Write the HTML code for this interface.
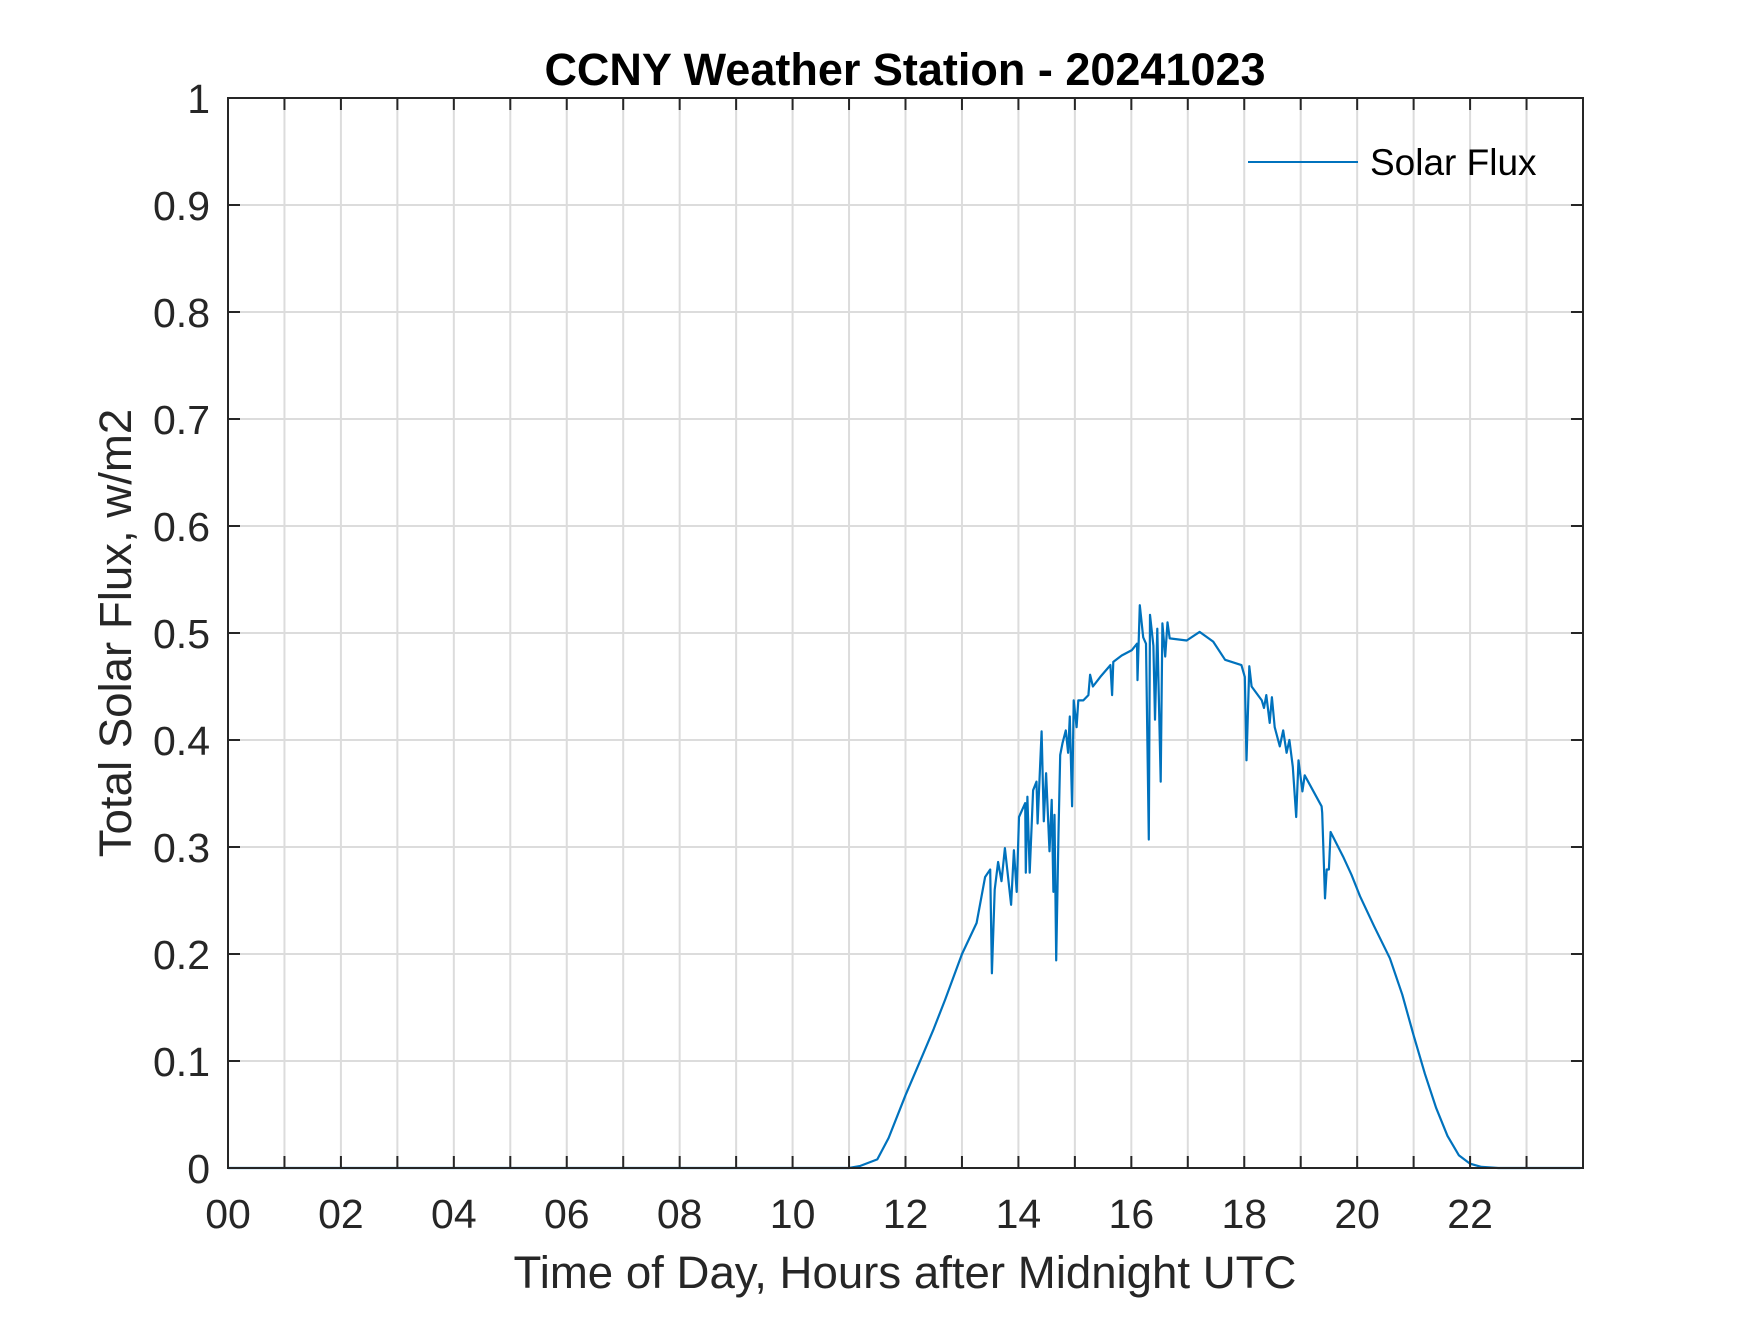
<!DOCTYPE html>
<html><head><meta charset="utf-8"><style>
html,body{margin:0;padding:0;background:#fff;}
svg text{font-family:"Liberation Sans",Arial,sans-serif;}
</style></head><body>
<svg id="chart" width="1750" height="1313" viewBox="0 0 1750 1313" xmlns="http://www.w3.org/2000/svg">
<rect width="1750" height="1313" fill="#fff"/>
<g id="grid"></g>
<g id="series"></g>
<rect x="228" y="98" width="1355" height="1070" fill="none" stroke="#262626" stroke-width="2"/>
<g id="ticks"></g>
<text x="905" y="85" text-anchor="middle" font-size="45" font-weight="bold" fill="#000">CCNY Weather Station - 20241023</text>
<text x="905" y="1288" text-anchor="middle" font-size="45.6" fill="#262626">Time of Day, Hours after Midnight UTC</text>
<text transform="translate(131,633) rotate(-90)" text-anchor="middle" font-size="45.6" fill="#262626">Total Solar Flux, w/m2</text>
<g>
<line x1="1248" y1="162" x2="1358" y2="162" stroke="#0072BD" stroke-width="2"/>
<text x="1370" y="175" font-size="37" fill="#000">Solar Flux</text>
</g>
</svg>
<script>
const hours = [0,11.0,11.2,11.5,11.7,12.0,12.3,12.5,12.7,13.0,13.26,13.41,13.5,13.53,13.58,13.64,13.7,13.76,13.87,13.92,13.97,14.01,14.12,14.13,14.16,14.2,14.26,14.32,14.34,14.41,14.45,14.49,14.55,14.59,14.62,14.64,14.67,14.71,14.74,14.78,14.84,14.88,14.91,14.95,14.98,15.03,15.06,15.15,15.24,15.27,15.32,15.45,15.63,15.66,15.68,15.83,16.01,16.1,16.11,16.15,16.21,16.26,16.31,16.33,16.39,16.42,16.46,16.52,16.55,16.6,16.64,16.68,16.98,17.21,17.45,17.66,17.95,18.01,18.04,18.09,18.13,18.31,18.35,18.39,18.45,18.49,18.54,18.63,18.69,18.75,18.8,18.86,18.92,18.96,19.03,19.07,19.37,19.38,19.43,19.46,19.5,19.53,19.75,19.9,20.05,20.3,20.58,20.8,21.0,21.2,21.4,21.6,21.8,22.0,22.2,22.5,23.95];
const flux = [0,0,0.002,0.008,0.028,0.068,0.105,0.13,0.157,0.2,0.229,0.272,0.279,0.182,0.26,0.286,0.268,0.299,0.246,0.297,0.258,0.328,0.341,0.276,0.347,0.276,0.353,0.361,0.322,0.408,0.324,0.369,0.296,0.344,0.258,0.33,0.194,0.313,0.386,0.397,0.409,0.388,0.422,0.338,0.437,0.412,0.437,0.437,0.442,0.461,0.45,0.459,0.47,0.442,0.473,0.479,0.484,0.49,0.456,0.526,0.496,0.49,0.307,0.517,0.488,0.419,0.504,0.361,0.509,0.478,0.51,0.495,0.493,0.501,0.492,0.475,0.47,0.459,0.381,0.469,0.45,0.437,0.43,0.442,0.416,0.44,0.412,0.394,0.409,0.388,0.4,0.375,0.328,0.381,0.352,0.367,0.338,0.332,0.252,0.279,0.279,0.314,0.291,0.274,0.254,0.226,0.196,0.162,0.124,0.088,0.056,0.03,0.012,0.004,0.001,0,0];
const xTickLabels = ["00","02","04","06","08","10","12","14","16","18","20","22"];
const yTickLabels = ["0","0.1","0.2","0.3","0.4","0.5","0.6","0.7","0.8","0.9","1"];

const L=228,R=1583,T=98,B=1168;
const xs = h => L + h/24*(R-L);
const ys = v => B - v*(B-T);
const NS="http://www.w3.org/2000/svg";
function mk(tag, attrs, parent){const e=document.createElementNS(NS,tag);for(const k in attrs)e.setAttribute(k,attrs[k]);parent.appendChild(e);return e;}
const grid=document.getElementById('grid'), ticks=document.getElementById('ticks'), series=document.getElementById('series');
for(let h=1;h<24;h++){
  const g=mk('line',{x1:xs(h),x2:xs(h),y1:T,y2:B,stroke:'#dcdcdc','stroke-width':2},grid);
  
  
  for(const [a,b] of [[B,B-12],[T,T+12]]){
    const t=mk('line',{x1:xs(h),x2:xs(h),y1:a,y2:b,stroke:'#262626','stroke-width':2},ticks);
    
    
  }
}
yTickLabels.forEach((lab,i)=>{
  const v=parseFloat(lab), y=ys(v);
  if(i>0&&i<yTickLabels.length-1){
    const g=mk('line',{x1:L,x2:R,y1:y,y2:y,stroke:'#dcdcdc','stroke-width':2},grid);
    
    
    for(const [a,b] of [[L,L+12],[R,R-12]]){
      const t=mk('line',{x1:a,x2:b,y1:y,y2:y,stroke:'#262626','stroke-width':2},ticks);
      
      
    }
  }
  const tx=mk('text',{x:210,y:y+15,'text-anchor':'end','font-size':41,fill:'#262626'},ticks);
  tx.textContent=lab;
  
  
});
xTickLabels.forEach(lab=>{
  const h=parseFloat(lab);
  const tx=mk('text',{x:xs(h),y:1228,'text-anchor':'middle','font-size':41,fill:'#262626'},ticks);
  tx.textContent=lab;
  
  
});
const pts=hours.map((h,i)=>xs(h).toFixed(1)+','+ys(flux[i]).toFixed(1)).join(' ');
const pl=mk('polyline',{points:pts,fill:'none',stroke:'#0072BD','stroke-width':2.2,'stroke-linejoin':'round'},series);


</script>
</body></html>
